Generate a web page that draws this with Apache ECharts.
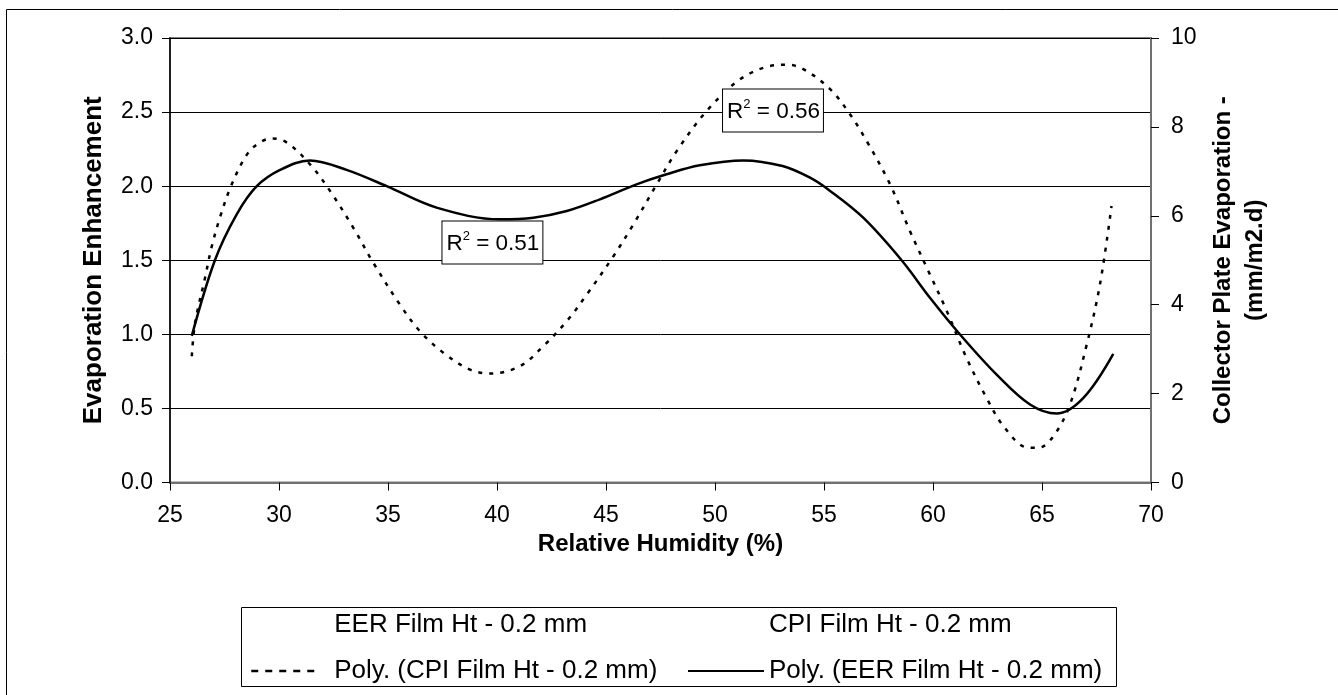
<!DOCTYPE html>
<html>
<head>
<meta charset="utf-8">
<script src="https://cdn.jsdelivr.net/npm/echarts@6/dist/echarts.min.js"></script>
<style>
html,body{margin:0;padding:0;background:#fff;}
#c{width:1338px;height:695px;}
</style>
</head>
<body>
<div id="c"></div>
<script>
// Relative humidity (%) along the EER polynomial trendline
const eerHumidity = [26.0, 27.06, 28.06, 28.98, 30.05, 31.42, 33.1, 34.94, 37.23, 40.14, 41.67, 43.2, 44.72, 46.4, 47.78, 49.3, 51.3, 53.1, 54.36, 55.28, 56.8, 58.56, 59.86, 61.24, 62.92, 64.45, 65.67, 66.9, 68.27];
// Evaporation Enhancement (left axis)
const eerValues = [0.99, 1.50, 1.81, 2.00, 2.11, 2.174, 2.11, 2.00, 1.855, 1.776, 1.787, 1.832, 1.911, 2.012, 2.08, 2.141, 2.174, 2.136, 2.057, 1.968, 1.787, 1.50, 1.247, 0.999, 0.728, 0.526, 0.465, 0.571, 0.868];

// Relative humidity (%) along the CPI polynomial trendline
const cpiHumidity = [26.0, 26.15, 26.61, 26.9, 27.29, 27.8, 28.49, 29.0, 29.66, 30.35, 31.42, 32.34, 33.41, 34.33, 35.55, 36.47, 37.54, 38.76, 39.7, 41.06, 42.13, 43.2, 44.12, 45.34, 46.26, 47.33, 48.25, 49.62, 51.15, 52.52, 53.29, 54.05, 55.28, 56.2, 56.96, 58.03, 58.94, 59.86, 60.63, 61.54, 62.46, 63.23, 64.3, 64.83, 65.52, 66.28, 67.05, 67.66, 68.19];
// Collector Plate Evaporation (mm/m2.d) (right axis)
const cpiValues = [2.84, 3.59, 4.61, 5.28, 5.96, 6.67, 7.35, 7.61, 7.74, 7.65, 7.16, 6.56, 5.73, 4.94, 4.00, 3.40, 2.92, 2.54, 2.45, 2.62, 3.07, 3.63, 4.23, 5.09, 5.81, 6.71, 7.46, 8.36, 9.07, 9.37, 9.40, 9.30, 8.85, 8.28, 7.68, 6.71, 5.66, 4.68, 3.86, 2.80, 1.90, 1.27, 0.79, 0.78, 1.04, 1.75, 3.10, 4.46, 6.22];

const xTicks = [25, 30, 35, 40, 45, 50, 55, 60, 65, 70];
const leftTicks = [0, 0.5, 1.0, 1.5, 2.0, 2.5, 3.0];
const rightTicks = [0, 2, 4, 6, 8, 10];

const seriesNames = ['EER Film Ht - 0.2 mm', 'CPI Film Ht - 0.2 mm', 'Poly. (CPI Film Ht - 0.2 mm)', 'Poly. (EER Film Ht - 0.2 mm)'];
const r2Labels = ['0.51', '0.56'];

const FONT = '"Liberation Sans", Arial, sans-serif';
const zip = (xs, ys) => xs.map((x, i) => [x, ys[i]]);

const chart = echarts.init(document.getElementById('c'), null, {renderer: 'canvas'});

function r2Label(val) {
  return {
    show: true,
    position: 'inside',
    formatter: '{t|R}{s|2}{t| = ' + val + '}',
    backgroundColor: '#fff',
    borderColor: '#000',
    borderWidth: 1,
    padding: [8, 3, 6, 4],
    rich: {
      t: {fontFamily: FONT, fontSize: 22.5, color: '#000', lineHeight: 28},
      s: {fontFamily: FONT, fontSize: 13, color: '#000', lineHeight: 13, verticalAlign: 'top'}
    }
  };
}

const legendCommon = {
  orient: 'vertical', top: 607,
  itemHeight: 26, itemGap: 20,
  itemStyle: {color: 'rgba(0,0,0,0)', borderWidth: 0, opacity: 0},
  z: 5
};

const option = {
  animation: false,
  backgroundColor: '#fff',
  textStyle: {fontFamily: FONT, color: '#000'},
  grid: {left: 170, right: 187, top: 38, bottom: 212.5, show: true, borderColor: '#808080', borderWidth: 2, containLabel: false},
  graphic: [
    {type: 'rect', shape: {x: 6.5, y: 9.5, width: 1400, height: 800}, style: {fill: 'none', stroke: '#000', lineWidth: 1}, silent: true, z: -1},
    {type: 'rect', shape: {x: 241.5, y: 607.5, width: 875, height: 79}, style: {fill: '#fff', stroke: '#000', lineWidth: 1}, silent: true, z: 0}
  ],
  legend: [
    Object.assign({}, legendCommon, {
      left: 245,
      data: [
        {name: seriesNames[0]},
        {name: seriesNames[2], lineStyle: {type: [7, 7], width: 2.5, color: '#000'}}
      ],
      itemWidth: 67,
      textStyle: {fontFamily: FONT, fontSize: 26, lineHeight: 26, color: '#000', padding: [0, 0, 0, 11]}
    }),
    Object.assign({}, legendCommon, {
      left: 682,
      data: [seriesNames[1], seriesNames[3]],
      itemWidth: 76,
      textStyle: {fontFamily: FONT, fontSize: 26, lineHeight: 26, color: '#000'}
    })
  ],
  xAxis: {
    type: 'value', min: xTicks[0], max: xTicks[xTicks.length - 1], interval: 5,
    name: 'Relative Humidity (%)', nameLocation: 'middle', nameGap: 45,
    nameTextStyle: {fontFamily: FONT, fontSize: 24, fontWeight: 'bold', color: '#000'},
    axisLine: {show: true, lineStyle: {color: '#707070', width: 2}},
    axisTick: {show: true, inside: false, length: 8, lineStyle: {color: '#000', width: 1}},
    axisLabel: {fontFamily: FONT, fontSize: 23, color: '#000', margin: 22},
    splitLine: {show: false}
  },
  yAxis: [
    {
      type: 'value', min: leftTicks[0], max: leftTicks[leftTicks.length - 1], interval: 0.5,
      name: 'Evaporation Enhancement', nameLocation: 'middle', nameGap: 63,
      nameTextStyle: {fontFamily: FONT, fontSize: 26, fontWeight: 'bold', color: '#000'},
      axisLine: {show: true, lineStyle: {color: '#000', width: 1.5}},
      axisTick: {show: true, inside: false, length: 8, lineStyle: {color: '#000', width: 1}},
      axisLabel: {fontFamily: FONT, fontSize: 23, color: '#000', margin: 17, formatter: v => v.toFixed(1)},
      splitLine: {show: true, lineStyle: {color: '#000', width: 1}}
    },
    {
      type: 'value', min: rightTicks[0], max: rightTicks[rightTicks.length - 1], interval: 2,
      position: 'right',
      name: 'Collector Plate Evaporation -\n(mm/m2.d)', nameLocation: 'middle', nameGap: 53,
      nameTextStyle: {fontFamily: FONT, fontSize: 24, fontWeight: 'bold', color: '#000', lineHeight: 32},
      axisLine: {show: true, lineStyle: {color: '#707070', width: 2}},
      axisTick: {show: true, inside: false, length: 8, lineStyle: {color: '#000', width: 1}},
      axisLabel: {fontFamily: FONT, fontSize: 23, color: '#000', margin: 20},
      splitLine: {show: false}
    }
  ],
  series: [
    {name: seriesNames[0], type: 'line', data: [], symbol: 'none', yAxisIndex: 0, lineStyle: {opacity: 0}, itemStyle: {opacity: 0}},
    {name: seriesNames[1], type: 'line', data: [], symbol: 'none', yAxisIndex: 1, lineStyle: {opacity: 0}, itemStyle: {opacity: 0}},
    {
      name: seriesNames[2], type: 'line', yAxisIndex: 1, data: zip(cpiHumidity, cpiValues),
      symbol: 'none', smooth: 0.35, z: 3,
      lineStyle: {color: '#000', width: 2.5, type: [4, 7]},
      itemStyle: {color: '#000'},
      markPoint: {
        symbol: 'rect', symbolSize: 1, itemStyle: {color: 'rgba(0,0,0,0)'},
        data: [{coord: [52.66, 8.37], label: r2Label(r2Labels[1])}],
        z: 10
      }
    },
    {
      name: seriesNames[3], type: 'line', yAxisIndex: 0, data: zip(eerHumidity, eerValues),
      symbol: 'none', smooth: 0.35, z: 4,
      lineStyle: {color: '#000', width: 2.5},
      itemStyle: {color: '#000'},
      markPoint: {
        symbol: 'rect', symbolSize: 1, itemStyle: {color: 'rgba(0,0,0,0)'},
        data: [{coord: [39.79, 1.62], label: r2Label(r2Labels[0])}],
        z: 10
      }
    }
  ]
};
chart.setOption(option);
</script>
</body>
</html>
